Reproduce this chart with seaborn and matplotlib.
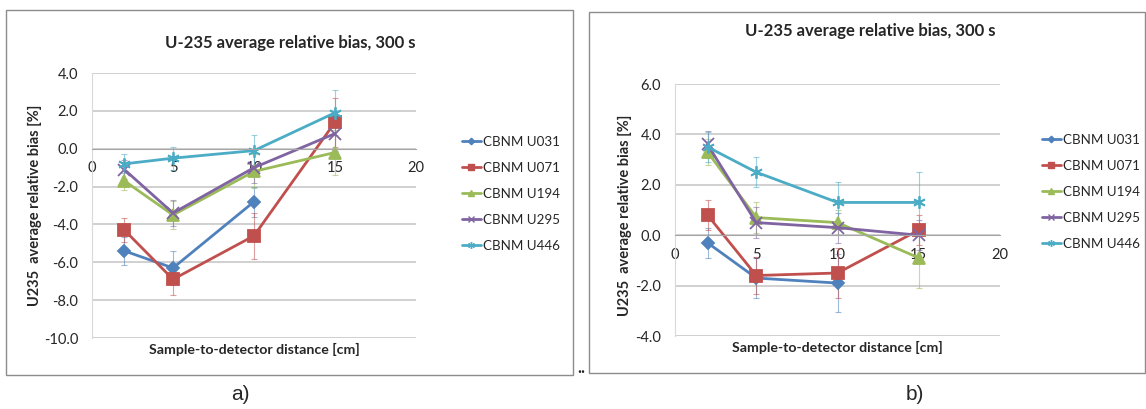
import numpy as np
import pandas as pd
import matplotlib
matplotlib.use("Agg")
import matplotlib.pyplot as plt
from matplotlib.patches import Rectangle
from matplotlib.lines import Line2D
from matplotlib.ticker import FormatStrFormatter
import seaborn as sns

series = ['CBNM U031', 'CBNM U071', 'CBNM U194', 'CBNM U295', 'CBNM U446']
dist = [2, 5, 10, 15]

# a) average relative bias [%] per sample-to-detector distance
a_u031 = [-5.4, -6.3, -2.8, np.nan]
a_u071 = [-4.3, -6.9, -4.6, 1.4]
a_u194 = [-1.7, -3.5, -1.2, -0.2]
a_u295 = [-1.1, -3.4, -1.0, 0.8]
a_u446 = [-0.8, -0.5, -0.1, 1.9]
a_err031 = [0.75, 0.9, 0.8, np.nan]
a_err071 = [0.65, 0.85, 1.2, 1.3]
a_err194 = [0.5, 0.75, 0.9, 1.2]
a_err295 = [0.5, 0.7, 0.8, 0.9]
a_err446 = [0.5, 0.6, 0.8, 1.2]

# b) average relative bias [%]
b_u031 = [-0.3, -1.7, -1.9, np.nan]
b_u071 = [0.8, -1.6, -1.5, 0.2]
b_u194 = [3.3, 0.7, 0.5, -0.9]
b_u295 = [3.6, 0.5, 0.3, 0.0]
b_u446 = [3.5, 2.5, 1.3, 1.3]
b_err031 = [0.6, 0.8, 1.15, np.nan]
b_err071 = [0.6, 0.75, 1.0, 0.6]
b_err194 = [0.5, 0.6, 0.5, 1.2]
b_err295 = [0.55, 0.6, 0.6, 0.6]
b_err446 = [0.6, 0.6, 0.8, 1.2]

colors = ['#4F81BD', '#C0504D', '#9BBB59', '#8064A2', '#4BACC6']
markers = ['D', 's', '^', 'x', (6, 2, 0)]
msizes = [6, 9, 8, 8, 9]

sns.set_style("white")
plt.rcParams['font.family'] = ['Lato', 'DejaVu Sans']

fig = plt.figure(figsize=(11.46, 4.09), dpi=100)
W, H = 1146.0, 409.0


def fx(px):
    return px / W


def fy(py):
    return 1 - py / H


def draw_panel(ax, values, errors, ylim, ylab_xy):
    df = pd.DataFrame({
        'Distance': np.tile(dist, len(series)),
        'Bias': np.concatenate(values),
        'Sample': np.repeat(series, len(dist)),
    }).dropna()
    sns.lineplot(data=df, x='Distance', y='Bias', hue='Sample',
                 hue_order=series, palette=dict(zip(series, colors)),
                 marker='o', linewidth=2, legend=False, ax=ax)
    # excel-like marker per series
    for line, c, m, ms in zip(ax.lines, colors, markers, msizes):
        line.set_marker(m)
        line.set_markersize(ms)
        line.set_markeredgecolor(c)
        line.set_markerfacecolor(c)
        line.set_markeredgewidth(1.3)
    for v, e, c in zip(values, errors, colors):
        ax.errorbar(dist, v, yerr=e, fmt='none', ecolor=c, elinewidth=0.8,
                    capsize=2.5, capthick=0.8, alpha=0.55, zorder=1)

    ax.set_xlim(0, 20)
    ax.set_xticks([0, 5, 10, 15, 20])
    ax.set_ylim(*ylim)
    ax.set_yticks(np.arange(ylim[0], ylim[1] + 0.1, 2))
    ax.yaxis.set_major_formatter(FormatStrFormatter('%.1f'))
    ax.spines['bottom'].set_position(('data', 0))
    ax.spines['bottom'].set_color('#A6A6A6')
    ax.spines['left'].set_color('#D9D9D9')
    ax.spines['top'].set_visible(False)
    ax.spines['right'].set_visible(False)
    ax.yaxis.grid(True, color='#C4C4C4', lw=1.1)
    ax.set_axisbelow(True)
    ax.tick_params(axis='x', length=3, direction='in', color='#A6A6A6', pad=9,
                   labelsize=10.5, labelcolor='#262626')
    ax.tick_params(axis='y', length=4, color='#C4C4C4', pad=6,
                   labelsize=10.5, labelcolor='#262626')
    ax.set_xlabel('Sample-to-detector distance [cm]', fontsize=10.2, fontweight='bold')
    ax.xaxis.set_label_coords(0.5, -0.045)
    ax.xaxis.label.set_va('center')
    ax.set_ylabel('U235  average relative bias [%]', fontsize=10.5, fontweight='bold')
    ax.yaxis.set_label_coords(*ylab_xy)
    ax.yaxis.label.set_va('center')


ax_a = fig.add_axes([fx(92), fy(338), fx(324), 265 / H])
draw_panel(ax_a, [a_u031, a_u071, a_u194, a_u295, a_u446],
           [a_err031, a_err071, a_err194, a_err295, a_err446],
           (-10, 4), (-0.176, 0.5))

ax_b = fig.add_axes([fx(675), fy(336), fx(325), 252 / H])
draw_panel(ax_b, [b_u031, b_u071, b_u194, b_u295, b_u446],
           [b_err031, b_err071, b_err194, b_err295, b_err446],
           (-4, 6), (-0.154, 0.48))

handles = [Line2D([], [], color=c, marker=m, markersize=ms * 0.55, lw=2,
                  markeredgewidth=1) for c, m, ms in zip(colors, markers, msizes)]
for x0, y0 in [(462, 136), (1042, 134)]:
    fig.legend(handles, series, loc='upper left', bbox_to_anchor=(fx(x0), fy(y0)),
               frameon=False, fontsize=9.6, handlelength=1.4, handletextpad=0.15,
               labelspacing=1.05, borderaxespad=0, borderpad=0)

title = 'U-235 average relative bias, 300 s'
fig.text(fx(290), fy(43), title, ha='center', va='center', fontsize=12, fontweight='bold')
fig.text(fx(870), fy(31), title, ha='center', va='center', fontsize=12, fontweight='bold')

for x0, y0, x1, y1 in [(6, 10, 573, 375), (589, 12, 1145, 373)]:
    fig.patches.append(Rectangle((fx(x0), fy(y1)), fx(x1 - x0), (y1 - y0) / H,
                                 transform=fig.transFigure, fill=False,
                                 edgecolor='#8C8C8C', lw=1))
fig.text(fx(577), fy(368), '..', ha='left', va='center', fontsize=12, fontweight='bold')
fig.text(fx(240), fy(395), 'a)', ha='center', va='center', fontsize=15,
         family='Liberation Sans')
fig.text(fx(915), fy(395), 'b)', ha='center', va='center', fontsize=15,
         family='Liberation Sans')

fig.savefig('out.png', dpi=100, facecolor='white')
